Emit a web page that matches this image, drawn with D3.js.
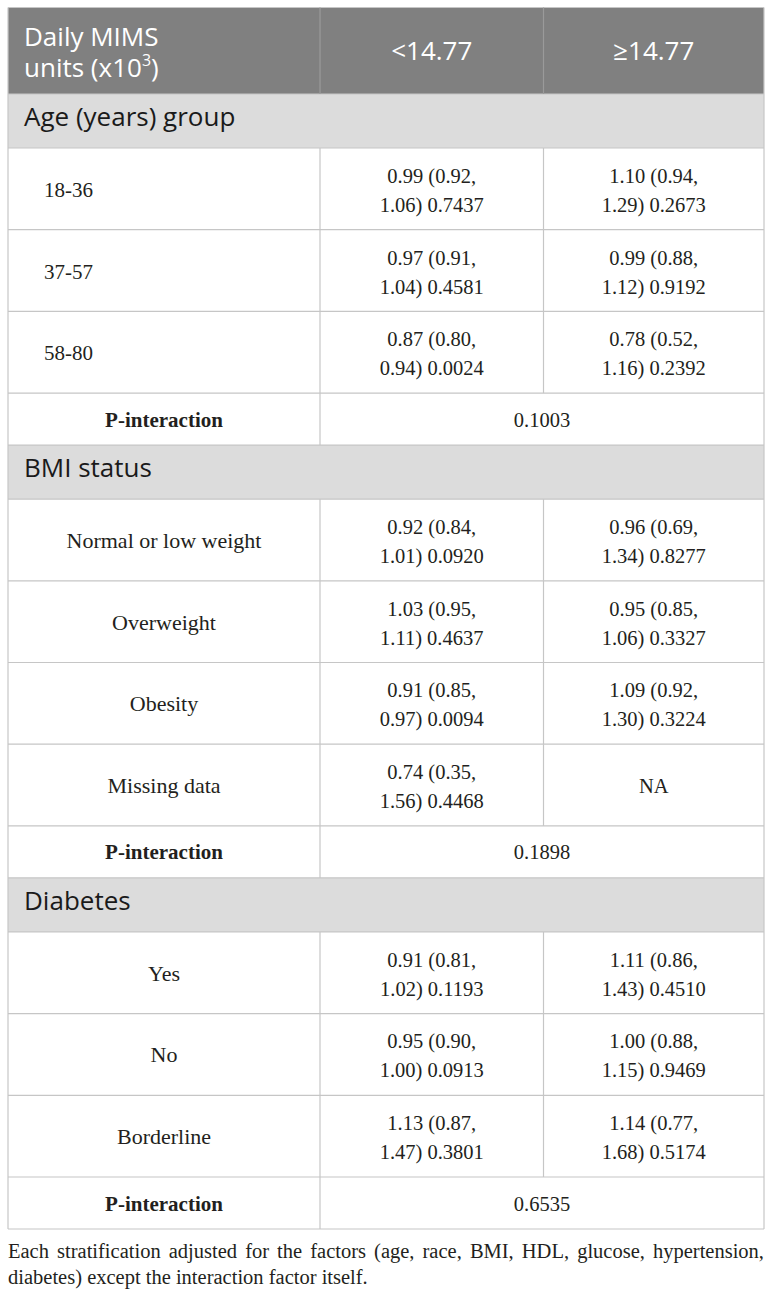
<!DOCTYPE html>
<html>
<head>
<meta charset="utf-8">
<script src="https://cdn.jsdelivr.net/npm/d3@7/dist/d3.min.js"></script>
<style>
  html, body { margin: 0; padding: 0; background: #ffffff; }
  svg { display: block; }
</style>
</head>
<body>
<svg id="chart" width="772" height="1296"></svg>
<script>
// ---------- data ----------
const headerLabel = ["Daily MIMS", "units (x10", "3", ")"];
const columnLabels = ["<14.77", "\u226514.77"];
const sections = ["Age (years) group", "BMI status", "Diabetes"];
const rowLabels = [
  ["18-36", "37-57", "58-80"],
  ["Normal or low weight", "Overweight", "Obesity", "Missing data"],
  ["Yes", "No", "Borderline"]
];
const lowValues = [
  ["0.99 (0.92, 1.06) 0.7437", "0.97 (0.91, 1.04) 0.4581", "0.87 (0.80, 0.94) 0.0024"],
  ["0.92 (0.84, 1.01) 0.0920", "1.03 (0.95, 1.11) 0.4637", "0.91 (0.85, 0.97) 0.0094", "0.74 (0.35, 1.56) 0.4468"],
  ["0.91 (0.81, 1.02) 0.1193", "0.95 (0.90, 1.00) 0.0913", "1.13 (0.87, 1.47) 0.3801"]
];
const highValues = [
  ["1.10 (0.94, 1.29) 0.2673", "0.99 (0.88, 1.12) 0.9192", "0.78 (0.52, 1.16) 0.2392"],
  ["0.96 (0.69, 1.34) 0.8277", "0.95 (0.85, 1.06) 0.3327", "1.09 (0.92, 1.30) 0.3224", "NA"],
  ["1.11 (0.86, 1.43) 0.4510", "1.00 (0.88, 1.15) 0.9469", "1.14 (0.77, 1.68) 0.5174"]
];
const pLabel = "P-interaction";
const pInteraction = ["0.1003", "0.1898", "0.6535"];
const footnoteLines = [
  "Each stratification adjusted for the factors (age, race, BMI, HDL, glucose, hypertension,",
  "diabetes) except the interaction factor itself."
];

// ---------- layout ----------
const svg = d3.select("#chart");
const tLeft = 8, tRight = 764, tTop = 7.5;
const colEdges = [tLeft, 320, 543.5, tRight];
const H = { header: 86.5, section: 54, data: 81.7, p: 52 };
const sans = "'Open Sans', 'Noto Sans', sans-serif";
const serif = "'Liberation Serif', 'DejaVu Serif', serif";
const ink = "#231f20";
const border = "#c6c6c6";
const sansSize = 26, labelSize = 22, valueSize = 20.5, boldSize = 21, fSize = 20.5;

const rows = [{ type: "header" }];
sections.forEach((s, si) => {
  rows.push({ type: "section", label: s });
  rowLabels[si].forEach((lab, ri) => {
    rows.push({ type: "data", si, label: lab, low: lowValues[si][ri], high: highValues[si][ri] });
  });
  rows.push({ type: "p", value: pInteraction[si] });
});
let yAcc = tTop;
rows.forEach(r => { r.y0 = yAcc; r.h = H[r.type]; yAcc += r.h; r.y1 = yAcc; r.cy = (r.y0 + r.y1) / 2; });
const tableBottom = yAcc;

const colCenter = i => (colEdges[i] + colEdges[i + 1]) / 2;

const g = svg.append("g");

g.selectAll("rect.bg").data(rows.filter(r => r.type === "header" || r.type === "section"))
  .join("rect")
  .attr("x", tLeft).attr("y", d => d.y0)
  .attr("width", tRight - tLeft).attr("height", d => d.h)
  .attr("fill", d => d.type === "header" ? "#808080" : "#dcdcdc");

const hLines = [tTop].concat(rows.map(r => r.y1));
g.selectAll("line.h").data(hLines).join("line")
  .attr("x1", tLeft).attr("x2", tRight)
  .attr("y1", d => d).attr("y2", d => d)
  .attr("stroke", border).attr("stroke-width", 1.2);
g.selectAll("line.outer").data([tLeft, tRight]).join("line")
  .attr("x1", d => d).attr("x2", d => d)
  .attr("y1", tTop).attr("y2", tableBottom)
  .attr("stroke", border).attr("stroke-width", 1.2);
rows.forEach(r => {
  let edges = [];
  if (r.type === "header" || r.type === "data") edges = [colEdges[1], colEdges[2]];
  else if (r.type === "p") edges = [colEdges[1]];
  edges.forEach(e => {
    g.append("line").attr("x1", e).attr("x2", e).attr("y1", r.y0).attr("y2", r.y1)
      .attr("stroke", r.type === "header" ? "#9a9a9a" : border).attr("stroke-width", 1.2);
  });
});

// header text
const hr = rows[0];
const ht = g.append("text").attr("font-family", sans).attr("font-size", sansSize).attr("fill", "#ffffff");
ht.append("tspan").attr("x", 24).attr("y", hr.y0 + 38.5).text(headerLabel[0]);
ht.append("tspan").attr("x", 24).attr("y", hr.y0 + 69).text(headerLabel[1]);
ht.append("tspan").attr("font-size", 16).attr("dy", -11).text(headerLabel[2]);
ht.append("tspan").attr("dy", 11).text(headerLabel[3]);
columnLabels.forEach((c, i) => {
  g.append("text").attr("font-family", sans).attr("font-size", sansSize).attr("fill", "#ffffff")
    .attr("text-anchor", "middle").attr("x", colCenter(i + 1)).attr("y", hr.cy + 9).text(c);
});

g.selectAll("text.sec").data(rows.filter(r => r.type === "section")).join("text")
  .attr("font-family", sans).attr("font-size", sansSize).attr("fill", "#1a1a1a")
  .attr("x", 24).attr("y", d => d.cy + 5).text(d => d.label);

const splitVal = v => {
  const i = v.indexOf(", ");
  return i < 0 ? [v] : [v.slice(0, i + 1), v.slice(i + 2)];
};
rows.filter(r => r.type === "data").forEach(r => {
  const lab = g.append("text").attr("font-family", serif).attr("font-size", labelSize).attr("fill", ink)
    .attr("y", r.cy + 8).text(r.label);
  if (r.si === 0) lab.attr("x", 44).attr("font-size", valueSize + 0.5);
  else lab.attr("x", colCenter(0)).attr("text-anchor", "middle");
  [r.low, r.high].forEach((v, i) => {
    const parts = splitVal(v);
    const t = g.append("text").attr("font-family", serif).attr("font-size", valueSize).attr("fill", ink)
      .attr("text-anchor", "middle");
    if (parts.length === 1) {
      t.append("tspan").attr("x", colCenter(i + 1)).attr("y", r.cy + 8).text(parts[0]);
    } else {
      t.append("tspan").attr("x", colCenter(i + 1)).attr("y", r.cy - 6).text(parts[0]);
      t.append("tspan").attr("x", colCenter(i + 1)).attr("y", r.cy + 23).text(parts[1]);
    }
  });
});

rows.filter(r => r.type === "p").forEach(r => {
  g.append("text").attr("font-family", serif).attr("font-size", boldSize).attr("font-weight", "bold")
    .attr("fill", ink).attr("text-anchor", "middle").attr("x", colCenter(0)).attr("y", r.cy + 7.5).text(pLabel);
  g.append("text").attr("font-family", serif).attr("font-size", valueSize).attr("fill", ink)
    .attr("text-anchor", "middle").attr("x", (colEdges[1] + colEdges[3]) / 2).attr("y", r.cy + 7.5).text(r.value);
});

// footnote (first line justified, last line left-aligned)
const measure = svg.append("text").attr("font-family", serif).attr("font-size", fSize);
const tw = s => { measure.text(s); return measure.node().getComputedTextLength(); };
const spaceW = tw("a b") - tw("ab");
const maxW = tRight - tLeft;
const fy0 = tableBottom + 29, fLH = 25.5;
footnoteLines.forEach((line, li) => {
  const words = line.split(" ");
  const widths = words.map(tw);
  const last = li === footnoteLines.length - 1;
  const gap = last ? spaceW : (maxW - d3.sum(widths)) / (words.length - 1);
  let xx = tLeft;
  words.forEach((w, i) => {
    g.append("text").attr("font-family", serif).attr("font-size", fSize).attr("fill", ink)
      .attr("x", xx).attr("y", fy0 + li * fLH).text(w);
    xx += widths[i] + gap;
  });
});
measure.remove();
</script>
</body>
</html>
